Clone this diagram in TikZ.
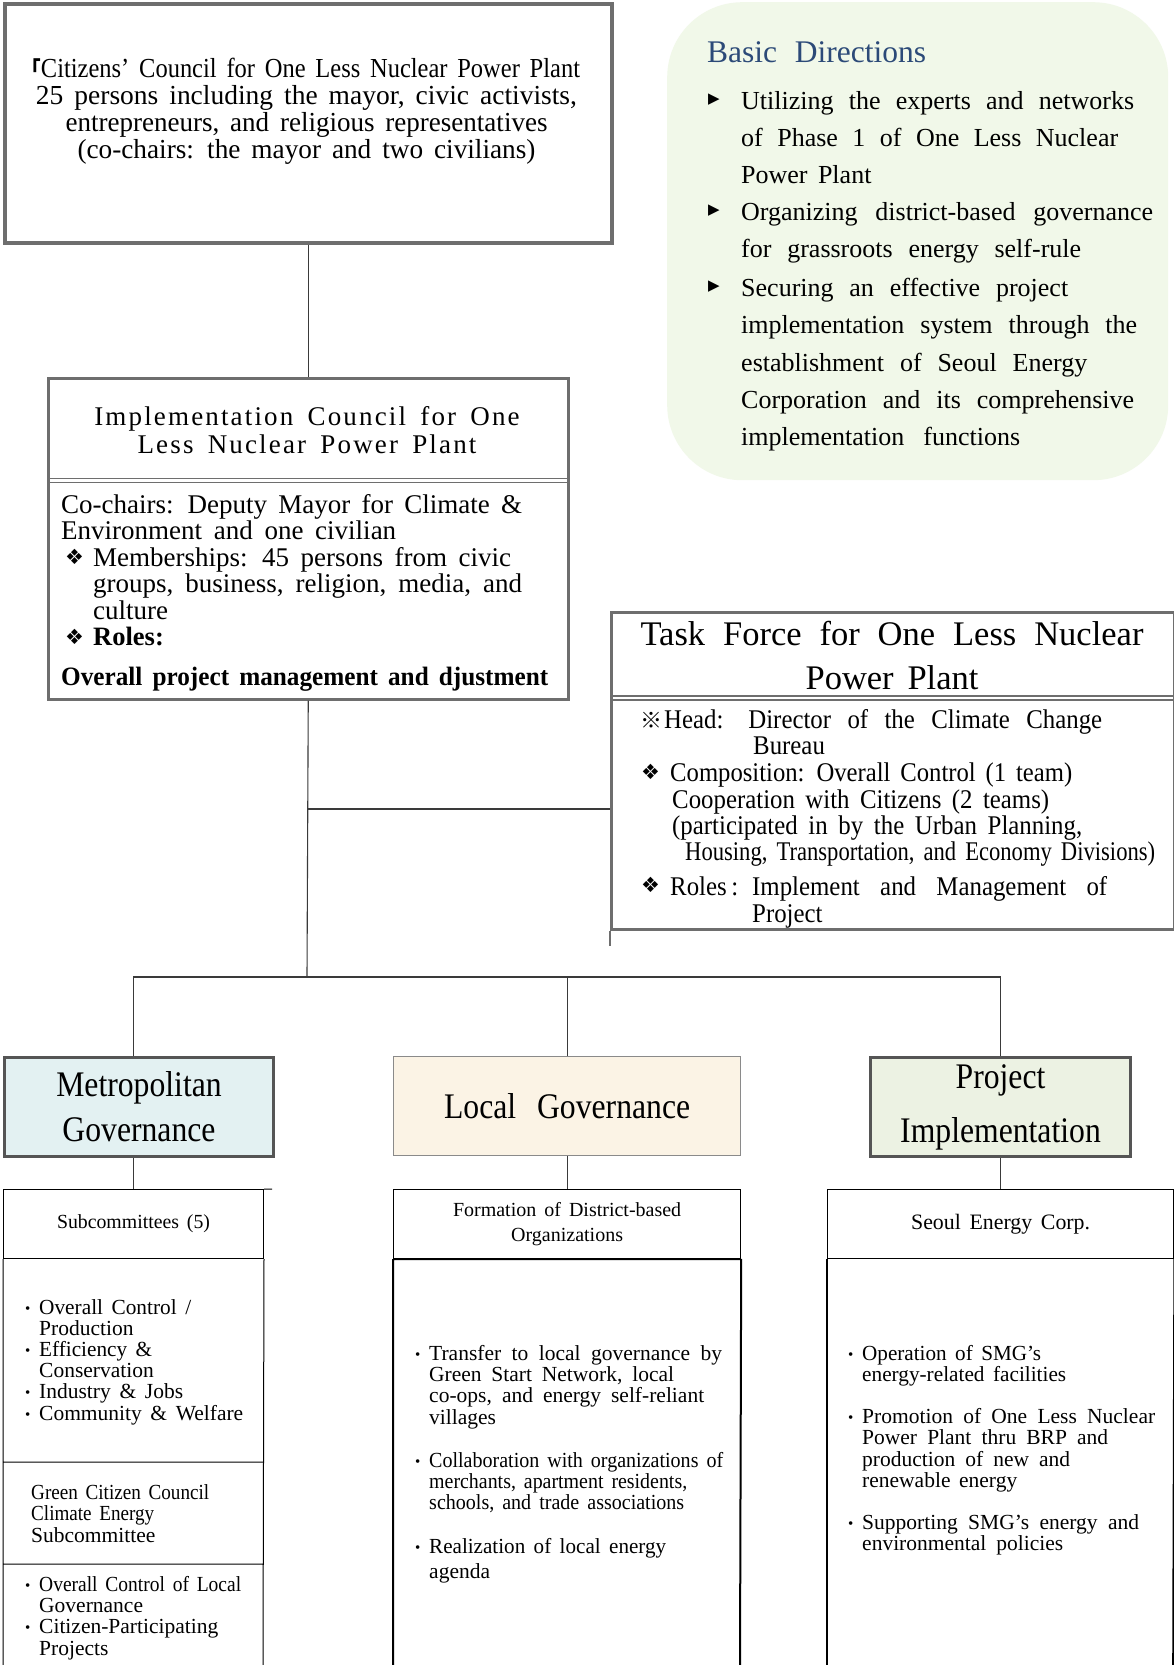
\documentclass[tikz,border=0pt]{standalone}
\usepackage{fontspec}
\usepackage{graphicx}
\setmainfont{Liberation Serif}[WordSpace=1.6]
\newfontfamily\cf{Liberation Serif}[FakeStretch=0.92,WordSpace=1.6]
\newfontfamily\hf{Liberation Serif}[FakeStretch=0.88,WordSpace=1.6]
\newfontfamily\symf{DejaVu Sans}
\newfontfamily\cjkf{Noto Sans CJK SC}
\newcommand\fs[2]{\fontsize{#1}{#2}\selectfont}
\newcommand\fitl[2]{\setbox0=\hbox{#2}\ifdim\wd0>#1\relax\resizebox{#1}{\height}{\copy0}\else\makebox[#1][s]{#2}\fi}
\newcommand\bul{\makebox[14pt][l]{\fs{15}{15}\raisebox{1pt}{•}}}
\definecolor{frame}{HTML}{6E6E6E}
\definecolor{headframe}{HTML}{555555}
\definecolor{lframe}{HTML}{8A8A8A}
\definecolor{connc}{HTML}{3A3A3A}
\definecolor{bdfill}{HTML}{F1F8E9}
\definecolor{bdblue}{HTML}{2C4A78}
\definecolor{metfill}{HTML}{E3F1F2}
\definecolor{locfill}{HTML}{FBF3E5}
\definecolor{prjfill}{HTML}{ECF2E3}
\begin{document}
\begin{tikzpicture}[x=1pt,y=-1pt,
  panel/.style={draw=frame, line width=#1, inner sep=0pt, anchor=north west},
  panel/.default=2pt,
  txt/.style={inner sep=0pt, align=left, anchor=north west},
  ctxt/.style={inner sep=0pt, align=center, anchor=north},
  sym/.style={inner sep=0pt, anchor=west, font=\symf\fs{21}{21}},
  tri/.style={inner sep=0pt, anchor=center, font=\symf\fs{15}{15}},
  conn/.style={draw=connc, line width=1.1pt},
  cell/.style={draw=black, line width=#1, inner sep=0pt, anchor=north west, minimum height=69pt, align=center, font=\fs{20}{25}},
  cell/.default=1pt,
  rule/.style={draw=frame, line width=#1},
  rule/.default=1.5pt,
]
\fill[white] (0,0) rectangle (1174,1665);
\useasboundingbox (0,0) rectangle (1174,1665);

% ---------- Basic Directions ----------
\node[fill=bdfill, rounded corners=75pt, minimum width=501pt, minimum height=478pt, inner sep=0pt, anchor=north west] (bd) at (667,2) {};
\node[txt, font=\fs{31.5}{32}, text=bdblue] (bdtitle) at (707,41) {\fitl{219pt}{Basic Directions}};
\node[tri] (bda) at (714,100) {▶};
\node[tri] (bdb) at (714,211) {▶};
\node[tri] (bdc) at (714,287) {▶};
\node[txt, font=\fs{26}{37.3}] (bd1) at (741,91) {\fitl{393pt}{Utilizing the experts and networks}\\\fitl{377pt}{of Phase 1 of One Less Nuclear}\\Power Plant};
\node[txt, font=\fs{26}{37.3}] (bd2) at (741,202) {\fitl{412pt}{Organizing district-based governance}\\\fitl{340pt}{for grassroots energy self-rule}};
\node[txt, font=\fs{26}{37.3}] (bd3) at (741,278) {\fitl{327pt}{Securing an effective project}\\\fitl{396pt}{implementation system through the}\\\fitl{346pt}{establishment of Seoul Energy}\\\fitl{393pt}{Corporation and its comprehensive}\\\fitl{279pt}{implementation functions}};

% ---------- Citizens' Council ----------
\node[panel=3.5pt, minimum width=607pt, minimum height=239pt] (top) at (3,2) {};
\node[ctxt, font=\fs{27.5}{27}] (toptxt) at (306.5,58) {\fitl{547pt}{\makebox[9pt][r]{\smash{\cjkf\bfseries\fs{22}{22}「}}Citizens’ Council for One Less Nuclear Power Plant}\\\fitl{541pt}{25 persons including the mayor, civic activists,}\\\fitl{482pt}{entrepreneurs, and religious representatives}\\\fitl{458pt}{(co-chairs: the mayor and two civilians)}};

% ---------- Implementation Council ----------
\node[panel=2.5pt, minimum width=520pt, minimum height=321pt] (impl) at (47,377) {};
\draw[rule] (47,478.5) -- (567,478.5) (47,482.5) -- (567,482.5);
\node[ctxt, font=\fs{27}{28}\addfontfeature{LetterSpace=8}] (impltitle) at (307,406) {Implementation Council for One\\Less Nuclear Power Plant};
\node[txt, font=\fs{27}{26.5}] (implb1) at (61,494) {\fitl{461pt}{Co-chairs: Deputy Mayor for Climate \&}\\\fitl{335pt}{Environment and one civilian}};
\node[sym] (impld1) at (65,557) {❖};
\node[txt, font=\fs{27}{26.5}] (implb2) at (93,547) {\fitl{418pt}{Memberships: 45 persons from civic}\\\fitl{429pt}{groups, business, religion, media, and}\\culture};
\node[sym] (impld2) at (65,637) {❖};
\node[txt, font=\fs{26.5}{26.5}\bfseries] (implrole) at (93,627) {Roles:};
\node[txt, font=\fs{26.5}{26.5}\bfseries] (implover) at (61,667) {\fitl{487pt}{Overall project management and djustment}};

% ---------- Task Force ----------
\node[panel=2.5pt, minimum width=563pt, minimum height=317pt] (tf) at (610,611) {};
\draw[rule=2.5pt] (tf.south west) -- ++(0,15) (tf.south east) -- ++(0,15);
\draw[rule] (610,696) -- (1173,696) (610,700) -- (1173,700);
\node[ctxt, font=\fs{34.5}{44}] (tftitle) at (892,621) {\fitl{503pt}{Task Force for One Less Nuclear}\\Power Plant};
\node[txt, font=\cf\fs{27}{26}] (tfhead) at (640,709) {\makebox[24pt][l]{\cjkf\fs{22}{22}※}\fitl{438pt}{Head: Director of the Climate Change}\\\hspace*{113pt}Bureau};
\node[sym] (tfd1) at (641,772) {❖};
\node[txt, font=\cf\fs{27}{26.3}] (tfcomp) at (670,763) {\fitl{402pt}{Composition: Overall Control (1 team)}\\\hspace*{2pt}\fitl{377pt}{Cooperation with Citizens (2 teams)}\\\hspace*{2pt}\fitl{410pt}{(participated in by the Urban Planning,}\\\hspace*{15pt}\fitl{470pt}{Housing, Transportation, and Economy Divisions)}};
\node[sym] (tfd2) at (641,885) {❖};
\node[txt, font=\cf\fs{27}{27}] (tfrole) at (670,876) {\makebox[82pt][l]{Roles\,:}\fitl{355pt}{Implement and Management of}\\\hspace*{82pt}Project};

% ---------- Heads ----------
\node[panel=3pt, draw=headframe, fill=metfill, minimum width=269pt, minimum height=99pt, align=center, font=\hf\fs{36}{45}] (mhead) at (3,1056) {Metropolitan\\Governance};
\node[panel=1.2pt, draw=lframe, fill=locfill, minimum width=347pt, minimum height=99pt, font=\hf\fs{36}{40}] (lhead) at (393,1056) {\fitl{246pt}{Local Governance}};
\node[panel=3pt, draw=headframe, fill=prjfill, minimum width=260pt, minimum height=99pt, align=center, font=\hf\fs{36}{54}] (phead) at (869,1056) {Project\\Implementation};

% ---------- Columns ----------
\node[cell=1pt, minimum width=260pt] (msub) at (3,1189) {\fitl{153pt}{Subcommittees (5)}};
\draw[line width=1pt] (msub.south west) -- (3,1665) (msub.south east) -- (263,1665) (msub.north east) -- (272,1189) (3,1462) -- (263,1462) (3,1564) -- (263,1564);
\node[cell=1.2pt, minimum width=347pt] (lsub) at (393,1189) {Formation of District-based\\Organizations};
\draw[line width=2pt] (lsub.south west) -- (393,1665) (lsub.south east) -- (740,1665) (lsub.south west) -- (lsub.south east);
\node[cell=1.2pt, minimum width=346pt, font=\fs{22}{25}] (psub) at (827,1189) {\fitl{179pt}{Seoul Energy Corp.}};
\draw[line width=1.6pt] (psub.south west) -- (827,1665) (psub.south east) -- (1173,1665);

\node[txt, font=\fs{21.5}{21.2}] (m1) at (25,1299) {\bul\fitl{152pt}{Overall Control /}\\\hspace*{14pt}Production\\\bul\fitl{113pt}{Efficiency \&}\\\hspace*{14pt}Conservation\\\bul\fitl{144pt}{Industry \& Jobs}\\\bul\fitl{204pt}{Community \& Welfare}};
\node[txt, font=\fs{21.5}{21.5}] (m2) at (31,1484) {\fitl{178pt}{Green Citizen Council}\\\fitl{123pt}{Climate Energy}\\Subcommittee};
\node[txt, font=\fs{21.5}{21.3}] (m3) at (25,1576) {\bul\fitl{202pt}{Overall Control of Local}\\\hspace*{14pt}Governance\\\bul Citizen-Participating\\\hspace*{14pt}Projects};

\node[txt, font=\fs{21.5}{21.3}] (l1) at (415,1345) {\bul\fitl{293pt}{Transfer to local governance by}\\\hspace*{14pt}\fitl{245pt}{Green Start Network, local}\\\hspace*{14pt}\fitl{275pt}{co-ops, and energy self-reliant}\\\hspace*{14pt}villages\\[21.7pt]\bul\fitl{294pt}{Collaboration with organizations of}\\\hspace*{14pt}\fitl{258pt}{merchants, apartment residents,}\\\hspace*{14pt}\fitl{255pt}{schools, and trade associations}\\[22.7pt]\bul\fitl{237pt}{Realization of local energy}\\[3.7pt]\hspace*{14pt}agenda};

\node[txt, font=\fs{21.5}{21.3}] (p1) at (848,1345) {\bul\fitl{179pt}{Operation of SMG’s}\\\hspace*{14pt}\fitl{204pt}{energy-related facilities}\\[20.7pt]\bul\fitl{293pt}{Promotion of One Less Nuclear}\\\hspace*{14pt}\fitl{246pt}{Power Plant thru BRP and}\\\hspace*{14pt}\fitl{208pt}{production of new and}\\\hspace*{14pt}renewable energy\\[20.7pt]\bul\fitl{277pt}{Supporting SMG’s energy and}\\\hspace*{14pt}\fitl{201pt}{environmental policies}};

% ---------- Connectors ----------
\coordinate (j1) at (307,809);
\coordinate (j2) at (307,977);
\draw[conn] (top.south) -- (top.south |- impl.north);
\draw[conn] (impl.south) -- (j2);
\draw[conn] (j1) -- (j1 -| tf.west);
\draw[conn] (mhead.north -| msub.north) |- (j2) -| (phead.north);
\draw[conn] (lhead.north |- j2) -- (lhead.north);
\draw[conn] (mhead.south -| msub.north) -- (msub.north);
\draw[conn] (lhead.south) -- (lhead.south |- lsub.north);
\draw[conn] (phead.south) -- (phead.south |- psub.north);
\end{tikzpicture}
\end{document}
